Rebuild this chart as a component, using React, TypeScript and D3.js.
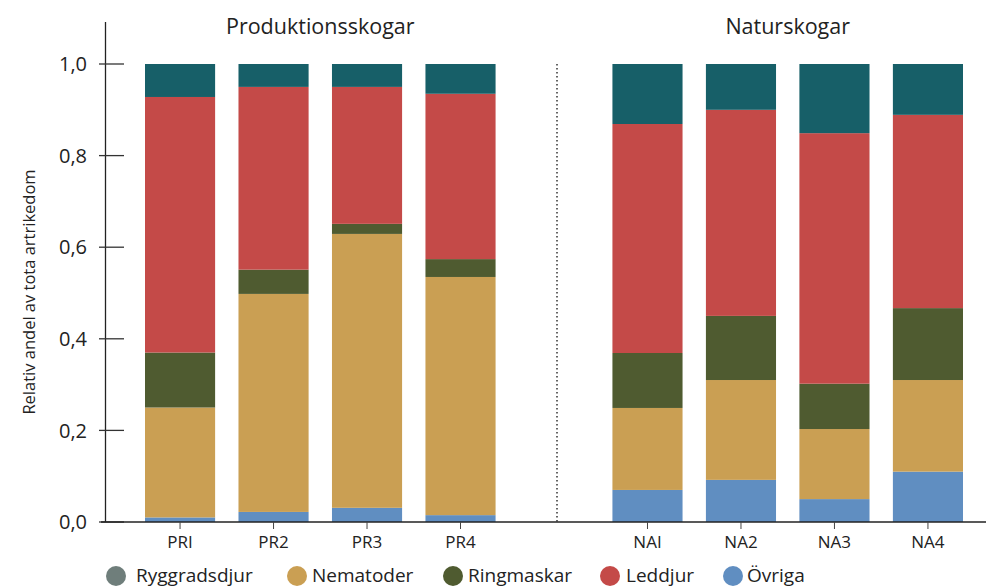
import React from "react";
import * as d3 from "d3";

const categories = ["PRI", "PR2", "PR3", "PR4", "NAI", "NA2", "NA3", "NA4"];
const ovriga = [0.01, 0.022, 0.031, 0.015, 0.07, 0.092, 0.05, 0.11];
const nematoder = [0.24, 0.476, 0.598, 0.52, 0.179, 0.218, 0.153, 0.2];
const ringmaskar = [0.12, 0.053, 0.022, 0.039, 0.12, 0.14, 0.099, 0.157];
const leddjur = [0.558, 0.399, 0.299, 0.361, 0.5, 0.45, 0.547, 0.422];
const ryggradsdjur = [0.072, 0.05, 0.05, 0.065, 0.131, 0.1, 0.151, 0.111];
const yTicks = [0, 0.2, 0.4, 0.6, 0.8, 1.0];
const groupTitles = ["Produktionsskogar", "Naturskogar"];
const legendLabels = ["Ryggradsdjur", "Nematoder", "Ringmaskar", "Leddjur", "Övriga"];
const yLabel = "Relativ andel av tota artrikedom";

const FONT = "'Open Sans', 'Noto Sans', sans-serif";

export default function App() {
  const W = 986, H = 588;
  const slots = ["PRI", "PR2", "PR3", "PR4", "gap", "NAI", "NA2", "NA3", "NA4"];
  const x = d3.scaleBand<string>().domain(slots).range([145, 963]).paddingInner(0.25).paddingOuter(0);
  const y = d3.scaleLinear().domain([0, 1]).range([522, 64]);

  const rows = categories.map((c, i) => ({
    cat: c,
    ovriga: ovriga[i],
    nematoder: nematoder[i],
    ringmaskar: ringmaskar[i],
    leddjur: leddjur[i],
    ryggradsdjur: ryggradsdjur[i],
  }));
  const keys = ["ovriga", "nematoder", "ringmaskar", "leddjur", "ryggradsdjur"];
  const barColors: Record<string, string> = {
    ovriga: "#608EC1",
    nematoder: "#CA9F53",
    ringmaskar: "#4F5B30",
    leddjur: "#C44A48",
    ryggradsdjur: "#175F68",
  };
  const legendColors = ["#6F7E7B", "#CA9F53", "#4F5B30", "#C44A48", "#608EC1"];
  const series = d3.stack<any>().keys(keys)(rows);

  const bw = x.bandwidth();
  const pCenter = (x("PRI")! + x("PR4")! + bw) / 2;
  const nCenter = (x("NAI")! + x("NA4")! + bw) / 2;
  const divX = x("gap")! + bw / 2 + 3;

  const legendCircleX = [116, 297, 453, 610, 733];
  const legendTextX = [136, 312, 468, 626, 747];
  const legendY = 575;

  return (
    <svg width={W} height={H} style={{ position: "absolute", left: 0, top: 0, background: "#fff" }} fontFamily={FONT}>
      <text x={pCenter} y={34} textAnchor="middle" fontSize={21.5} fill="#222">{groupTitles[0]}</text>
      <text x={nCenter} y={34} textAnchor="middle" fontSize={21.5} fill="#222">{groupTitles[1]}</text>

      {series.map((s) => (
        <g key={s.key} fill={barColors[s.key]}>
          {s.map((d, i) => (
            <rect key={i} x={x(categories[i])!} width={bw} y={y(d[1])} height={Math.max(0, y(d[0]) - y(d[1]))} />
          ))}
        </g>
      ))}

      <line x1={divX} x2={divX} y1={y(1)} y2={y(0)} stroke="#333" strokeWidth={1.5} strokeDasharray="1.5,2.5" />

      <line x1={105.5} x2={105.5} y1={22} y2={y(0)} stroke="#222" strokeWidth={1.3} />
      {yTicks.map((t) => (
        <g key={t}>
          <line x1={99} x2={124} y1={y(t)} y2={y(t)} stroke="#333" strokeWidth={1.3} />
          <text x={87} y={y(t)} dy="0.36em" textAnchor="end" fontSize={20} fill="#222">
            {d3.format(".1f")(t).replace(".", ",")}
          </text>
        </g>
      ))}
      <text transform={`translate(35,${292}) rotate(-90)`} textAnchor="middle" fontSize={16.5} fill="#222">{yLabel}</text>

      <line x1={101} x2={986} y1={y(0)} y2={y(0)} stroke="#222" strokeWidth={1.3} />
      {categories.map((c) => (
        <g key={c}>
          <line x1={x(c)! + bw / 2} x2={x(c)! + bw / 2} y1={y(0)} y2={y(0) + 7} stroke="#444" strokeWidth={1} />
          <text x={x(c)! + bw / 2} y={548} textAnchor="middle" fontSize={17} fill="#222">{c}</text>
        </g>
      ))}

      {legendLabels.map((l, i) => (
        <g key={l}>
          <circle cx={legendCircleX[i]} cy={legendY + 1} r={10} fill={legendColors[i]} />
          <text x={legendTextX[i]} y={legendY} dy="0.36em" fontSize={19} fill="#222">{l}</text>
        </g>
      ))}
    </svg>
  );
}
